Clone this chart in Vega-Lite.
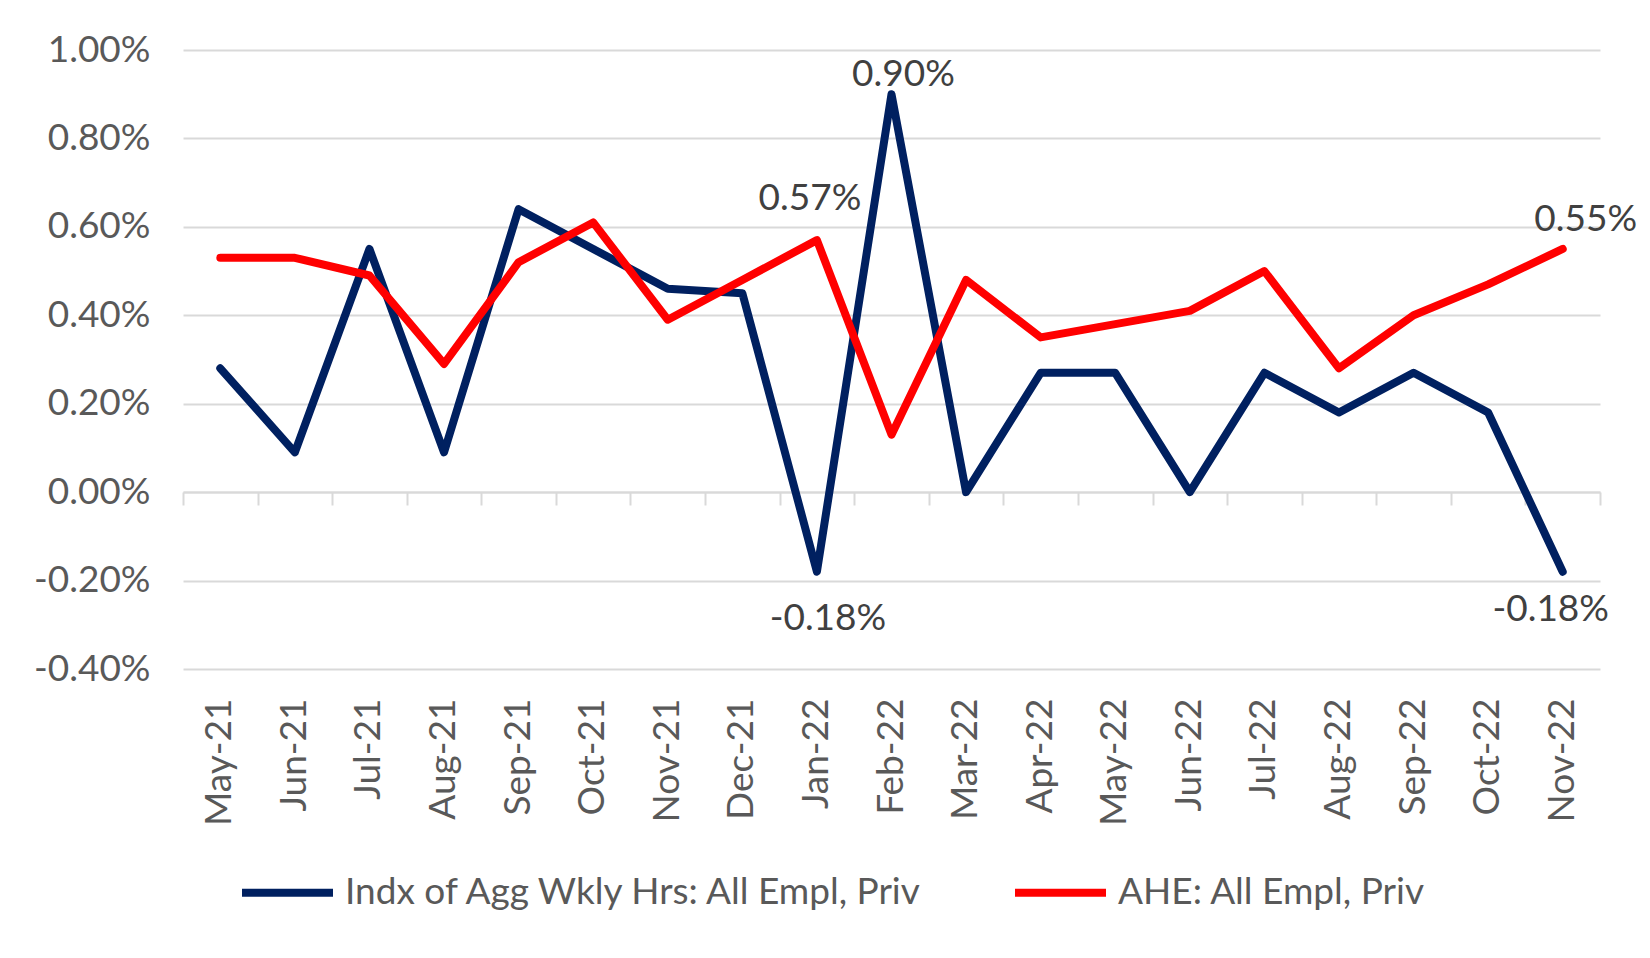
{
  "$schema": "https://vega.github.io/schema/vega-lite/v6.json",
  "width": 1417,
  "height": 619,
  "autosize": {"type": "none"},
  "padding": {"left": 183, "top": 50, "right": 50, "bottom": 289},
  "background": "white",
  "config": {"view": {"stroke": null}, "font": "Lato"},
  "datasets": {
    "series": [
      {"month": "May-21", "series": "Indx of Agg Wkly Hrs: All Empl, Priv", "value": 0.0028},
      {"month": "Jun-21", "series": "Indx of Agg Wkly Hrs: All Empl, Priv", "value": 0.0009},
      {"month": "Jul-21", "series": "Indx of Agg Wkly Hrs: All Empl, Priv", "value": 0.0055},
      {"month": "Aug-21", "series": "Indx of Agg Wkly Hrs: All Empl, Priv", "value": 0.0009},
      {"month": "Sep-21", "series": "Indx of Agg Wkly Hrs: All Empl, Priv", "value": 0.0064},
      {"month": "Oct-21", "series": "Indx of Agg Wkly Hrs: All Empl, Priv", "value": 0.0055},
      {"month": "Nov-21", "series": "Indx of Agg Wkly Hrs: All Empl, Priv", "value": 0.0046},
      {"month": "Dec-21", "series": "Indx of Agg Wkly Hrs: All Empl, Priv", "value": 0.0045},
      {"month": "Jan-22", "series": "Indx of Agg Wkly Hrs: All Empl, Priv", "value": -0.0018},
      {"month": "Feb-22", "series": "Indx of Agg Wkly Hrs: All Empl, Priv", "value": 0.009},
      {"month": "Mar-22", "series": "Indx of Agg Wkly Hrs: All Empl, Priv", "value": 0.0},
      {"month": "Apr-22", "series": "Indx of Agg Wkly Hrs: All Empl, Priv", "value": 0.0027},
      {"month": "May-22", "series": "Indx of Agg Wkly Hrs: All Empl, Priv", "value": 0.0027},
      {"month": "Jun-22", "series": "Indx of Agg Wkly Hrs: All Empl, Priv", "value": 0.0},
      {"month": "Jul-22", "series": "Indx of Agg Wkly Hrs: All Empl, Priv", "value": 0.0027},
      {"month": "Aug-22", "series": "Indx of Agg Wkly Hrs: All Empl, Priv", "value": 0.0018},
      {"month": "Sep-22", "series": "Indx of Agg Wkly Hrs: All Empl, Priv", "value": 0.0027},
      {"month": "Oct-22", "series": "Indx of Agg Wkly Hrs: All Empl, Priv", "value": 0.0018},
      {"month": "Nov-22", "series": "Indx of Agg Wkly Hrs: All Empl, Priv", "value": -0.0018},
      {"month": "May-21", "series": "AHE: All Empl, Priv", "value": 0.0053},
      {"month": "Jun-21", "series": "AHE: All Empl, Priv", "value": 0.0053},
      {"month": "Jul-21", "series": "AHE: All Empl, Priv", "value": 0.0049},
      {"month": "Aug-21", "series": "AHE: All Empl, Priv", "value": 0.0029},
      {"month": "Sep-21", "series": "AHE: All Empl, Priv", "value": 0.0052},
      {"month": "Oct-21", "series": "AHE: All Empl, Priv", "value": 0.0061},
      {"month": "Nov-21", "series": "AHE: All Empl, Priv", "value": 0.0039},
      {"month": "Dec-21", "series": "AHE: All Empl, Priv", "value": 0.0048},
      {"month": "Jan-22", "series": "AHE: All Empl, Priv", "value": 0.0057},
      {"month": "Feb-22", "series": "AHE: All Empl, Priv", "value": 0.0013},
      {"month": "Mar-22", "series": "AHE: All Empl, Priv", "value": 0.0048},
      {"month": "Apr-22", "series": "AHE: All Empl, Priv", "value": 0.0035},
      {"month": "May-22", "series": "AHE: All Empl, Priv", "value": 0.0038},
      {"month": "Jun-22", "series": "AHE: All Empl, Priv", "value": 0.0041},
      {"month": "Jul-22", "series": "AHE: All Empl, Priv", "value": 0.005},
      {"month": "Aug-22", "series": "AHE: All Empl, Priv", "value": 0.0028},
      {"month": "Sep-22", "series": "AHE: All Empl, Priv", "value": 0.004},
      {"month": "Oct-22", "series": "AHE: All Empl, Priv", "value": 0.0047},
      {"month": "Nov-22", "series": "AHE: All Empl, Priv", "value": 0.0055}
    ],
    "labels": [
      {"month": "Jan-22", "series": "AHE: All Empl, Priv", "value": 0.0057, "text": "0.57%"},
      {"month": "Feb-22", "series": "Indx of Agg Wkly Hrs: All Empl, Priv", "value": 0.009, "text": "0.90%"},
      {"month": "Jan-22", "series": "Indx of Agg Wkly Hrs: All Empl, Priv", "value": -0.0018, "text": "-0.18%"},
      {"month": "Nov-22", "series": "AHE: All Empl, Priv", "value": 0.0055, "text": "0.55%"},
      {"month": "Nov-22", "series": "Indx of Agg Wkly Hrs: All Empl, Priv", "value": -0.0018, "text": "-0.18%"}
    ]
  },
  "data": {"name": "series"},
  "encoding": {
    "x": {
      "field": "month", "type": "ordinal", "bandPosition": 0.5,
      "scale": {"type": "band", "paddingInner": 0, "paddingOuter": 0,
        "domain": ["May-21","Jun-21","Jul-21","Aug-21","Sep-21","Oct-21","Nov-21","Dec-21","Jan-22","Feb-22","Mar-22","Apr-22","May-22","Jun-22","Jul-22","Aug-22","Sep-22","Oct-22","Nov-22"]},
      "axis": {"orient": "bottom", "title": null, "domain": false, "ticks": false, "grid": false,
        "labelAngle": -90, "labelAlign": "right", "labelBaseline": "middle", "labelPadding": 29,
        "labelFontSize": 37, "labelColor": "#595959", "labelFont": "Lato"}
    },
    "y": {
      "field": "value", "type": "quantitative",
      "scale": {"domain": [-0.004, 0.01], "nice": false, "zero": false},
      "axis": {"title": null, "domain": false, "ticks": false,
        "values": [-0.004, -0.002, 0, 0.002, 0.004, 0.006, 0.008, 0.01],
        "labelExpr": "replace(format(datum.value, '.2%'), '\u2212', '-')",
        "gridColor": "#D9D9D9", "gridWidth": 2, "labelFontSize": 37, "labelColor": "#595959",
        "labelPadding": 33, "labelFont": "Lato"}
    }
  },
  "layer": [
    {
      "mark": {"type": "line", "strokeWidth": 8, "strokeCap": "round", "strokeJoin": "round"},
      "encoding": {
        "color": {
          "field": "series", "type": "nominal",
          "scale": {"domain": ["Indx of Agg Wkly Hrs: All Empl, Priv", "AHE: All Empl, Priv"], "range": ["#002060", "#FF0000"]},
          "legend": {"orient": "none", "legendX": 55, "legendY": 793, "direction": "horizontal", "title": null,
            "symbolType": "stroke", "symbolStrokeWidth": 8, "symbolSize": 8281,
            "labelFontSize": 37, "labelColor": "#595959", "labelFont": "Lato", "labelOffset": 8,
            "columnPadding": 74, "labelLimit": 1000}
        }
      }
    },
    {
      "data": {"name": "labels"},
      "transform": [{"filter": "datum.text == '0.57%'"}],
      "mark": {"type": "text", "fontSize": 37, "color": "#404040", "dx": -7, "dy": -41, "baseline": "middle", "align": "center"},
      "encoding": {
        "x": {"field": "month", "type": "ordinal", "bandPosition": 0.5,
          "axis": {"orient": "bottom", "offset": -177, "title": null, "labels": false, "grid": false,
            "domain": true, "domainColor": "#D9D9D9", "domainWidth": 2,
            "ticks": true, "tickBand": "extent", "tickColor": "#D9D9D9", "tickWidth": 2, "tickSize": 13}},
        "text": {"field": "text"}
      }
    },
    {
      "data": {"name": "labels"},
      "transform": [{"filter": "datum.text == '0.90%'"}],
      "mark": {"type": "text", "fontSize": 37, "color": "#404040", "dx": 12, "dy": -19, "baseline": "middle", "align": "center"},
      "encoding": {
        "x": {"field": "month", "type": "ordinal", "bandPosition": 0.5, "axis": null},
        "text": {"field": "text"}
      }
    },
    {
      "data": {"name": "labels"},
      "transform": [{"filter": "datum.text == '-0.18%' && datum.month == 'Jan-22'"}],
      "mark": {"type": "text", "fontSize": 37, "color": "#404040", "dx": 11, "dy": 47, "baseline": "middle", "align": "center"},
      "encoding": {
        "x": {"field": "month", "type": "ordinal", "bandPosition": 0.5, "axis": null},
        "text": {"field": "text"}
      }
    },
    {
      "data": {"name": "labels"},
      "transform": [{"filter": "datum.text == '0.55%'"}],
      "mark": {"type": "text", "fontSize": 37, "color": "#404040", "dx": 23, "dy": -29, "baseline": "middle", "align": "center"},
      "encoding": {
        "x": {"field": "month", "type": "ordinal", "bandPosition": 0.5, "axis": null},
        "text": {"field": "text"}
      }
    },
    {
      "data": {"name": "labels"},
      "transform": [{"filter": "datum.text == '-0.18%' && datum.month == 'Nov-22'"}],
      "mark": {"type": "text", "fontSize": 37, "color": "#404040", "dx": -12, "dy": 38, "baseline": "middle", "align": "center"},
      "encoding": {
        "x": {"field": "month", "type": "ordinal", "bandPosition": 0.5, "axis": null},
        "text": {"field": "text"}
      }
    }
  ],
  "resolve": {"axis": {"x": "independent"}}
}
